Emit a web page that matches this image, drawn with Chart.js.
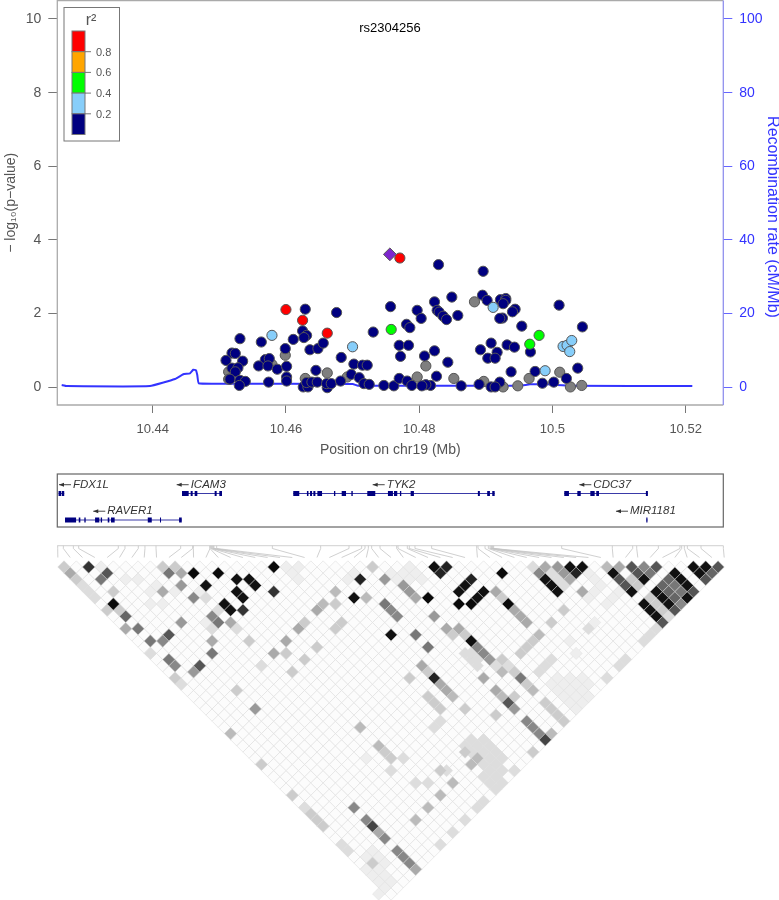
<!DOCTYPE html>
<html lang="en">
<head>
<meta charset="UTF-8">
<title>rs2304256 regional plot</title>
<script src="https://cdn.jsdelivr.net/npm/chart.js"></script>
<style>
  html, body { margin: 0; background: #fff; }
  canvas { position: absolute; left: 0; }
</style>
</head>
<body>
<canvas id="assocChart" width="779" height="470" style="top:0"></canvas>
<canvas id="geneChart" width="779" height="60" style="top:470px"></canvas>
<canvas id="ldChart" width="779" height="355" style="top:545px"></canvas>
<script>
// association points: position in Mb, -log10(p), split by r2 class
const navyPos = [10.4531,10.4519,10.4524,10.4510,10.4535,10.4519,10.4528,10.4524,10.4516,10.4531,10.4539,10.4530,10.4563,10.4569,10.4575,10.4559,10.4573,10.4587,10.4574,10.4601,10.4599,10.4611,10.4601,10.4601,10.4629,10.4625,10.4631,10.4627,10.4636,10.4648,10.4656,10.4676,10.4683,10.4645,10.4702,10.4715,10.4722,10.4698,10.4710,10.4717,10.4725,10.4747,10.4762,10.4770,10.4782,10.4789,10.4757,10.4731,10.4770,10.4784,10.4772,10.4781,10.4786,10.4797,10.4803,10.4626,10.4633,10.4631,10.4639,10.4647,10.4662,10.4661,10.4668,10.4682,10.4829,10.4896,10.4849,10.4823,10.4895,10.4902,10.4922,10.4930,10.4930,10.4926,10.4944,10.4940,10.4925,10.4921,10.4827,10.4830,10.4836,10.4841,10.4858,10.4954,10.5010,10.5045,10.4908,10.4892,10.4932,10.4943,10.4917,10.4903,10.4914,10.4967,10.4808,10.4823,10.4843,10.4826,10.4938,10.4974,10.5038,10.5021,10.5002,10.4985,10.4921,10.4890,10.4863,10.4908,10.4914,10.4817,10.4810,10.4804];
const navyP = [1.32,.93,.92,.73,.71,.52,.53,.42,.22,.19,.16,.05,1.23,.75,.78,.58,.58,.49,.14,.57,1.05,1.30,.28,.17,2.12,1.53,1.41,1.35,1.02,1.05,1.20,2.03,.81,.46,.63,.60,.60,.35,.26,.10,.08,.05,.04,.24,.17,.05,2.19,1.50,1.14,1.14,.84,1.71,1.62,2.09,1.87,.01,.01,.13,.14,.14,-.01,.10,.10,.17,3.33,3.15,2.45,2.32,2.50,2.36,2.38,2.41,2.36,2.27,2.12,2.05,1.88,1.87,2.09,2.04,1.93,1.84,1.95,1.66,2.23,1.64,1.20,1.02,1.15,1.09,.95,.79,.79,.96,.85,.99,.68,.30,.42,.43,.52,.24,.14,.11,.14,.08,.04,.01,.01,.05,.07,.04];
const grayPos = [10.4514,10.4514,10.4599,10.4579,10.4629,10.4662,10.4692,10.4797,10.4883,10.4810,10.4852,10.4897,10.4926,10.4948,10.4965,10.5011,10.5027,10.5044];
const grayP = [.42,.22,.87,.62,.24,.39,.28,.28,2.32,.58,.24,.16,.01,.04,.24,.41,.01,.05];
const bluePos = [10.4579,10.4700,10.4911,10.4989,10.5016,10.5022,10.5029,10.5026];
const blueP = [1.41,1.10,2.17,.45,1.11,1.14,1.27,.97];
const greenPos = [10.4758,10.4980,10.4966];
const greenP = [1.57,1.41,1.17];
const redPos = [10.4600,10.4625,10.4662,10.4771];
const redP = [2.11,1.82,1.47,3.51];
const leadPos = [10.4756];
const leadP = [3.61];

// recombination rate
const recombPos = [10.42634,10.42709,10.43959,10.44335,10.44459,10.4456,10.44609,10.4465,10.44669,10.4469,10.4501,10.47002,10.47082,10.49513,10.49663,10.49933,10.50263,10.521];
const recombRate = [.62,.35,.35,2.25,3.53,3.8,4.78,4.62,3.34,1.09,.98,.9,.43,.43,.8,.8,.43,.35];

const xTicks = [10.44,10.46,10.48,10.5,10.52];
const leftTicks = [0,2,4,6,8,10];
const rightTicks = [0,20,40,60,80,100];

const r2Colors = ['#ff0000','#ffa500','#00ff00','#87cefa','#000080'];
const r2Labels = ['0.8','0.6','0.4','0.2'];

// genes: exon start/end pairs
const fdx1l = [10.42587,10.42624,10.42634,10.42672];
const raver1 = [10.42684,10.42850,10.42890,10.42914,10.42974,10.42994,10.43135,10.43199,10.43220,10.43240,10.43325,10.43349,10.43374,10.43429,10.43926,10.43986,10.44110,10.44125,10.44396,10.44436];
const icam3 = [10.44440,10.44540,10.44570,10.44600,10.44630,10.44670,10.44930,10.44960,10.45000,10.45040];
const tyk2 = [10.46110,10.46200,10.46315,10.46338,10.46362,10.46392,10.46412,10.46442,10.46472,10.46542,10.46721,10.46741,10.46837,10.46902,10.46982,10.47003,10.47221,10.47341,10.47531,10.47606,10.47622,10.47671,10.47711,10.47731,10.47872,10.47921,10.48881,10.48911,10.49021,10.49062,10.49097,10.49133];
const cdc37 = [10.50178,10.50248,10.50374,10.50425,10.50569,10.50634,10.50658,10.50699,10.51403,10.51433];
const mir1181 = [10.51409,10.51427];
const geneNames = ['FDX1L','RAVER1','ICAM3','TYK2','CDC37','MIR1181'];
const geneRows = [1,2,1,1,1,2];
const geneArrows = [10.42594,10.43108,10.4436,10.47302,10.50404,10.50954];
const geneExons = [fdx1l,raver1,icam3,tyk2,cdc37,mir1181];

// SNP positions for the LD triangle, in plot order
const snpPos = [10.42574,10.42659,10.42809,10.42889,10.43484,10.43584,10.43784,10.43884,10.4405,10.4442,10.446,10.4461,10.4486,10.4486,10.44875,10.44885,10.449,10.4491,10.4492,10.4496,10.45796,10.46521,10.46947,10.47137,10.47187,10.47237,10.47287,10.47412,10.47662,10.47682,10.47822,10.47852,10.47937,10.48187,10.48863,10.48883,10.48988,10.49038,10.49063,10.49078,10.49088,10.49098,10.49108,10.49118,10.50139,10.50899,10.51205,10.51265,10.5159,10.51915,10.5194,10.5198,10.52025,10.5223,10.52566];

// LD cells above the white background, by shade: [column, row] in half cell steps
const ld0a = [[8,6],[21,1],[25,1],[34,0],[71,1],[66,6],[64,6],[72,6],[59,5]];
const ld11 = [[23,3],[26,6],[27,7],[28,2],[30,2],[31,3],[28,4],[29,5],[47,5],[53,11],[60,0],[65,3],[64,4],[68,4],[67,5],[66,12],[78,2],[79,3],[80,4],[82,0],[84,0],[89,1],[92,4],[94,2],[102,0],[104,0],[103,1],[99,1],[100,2],[101,3],[101,5],[96,4],[97,5],[98,6],[94,6],[95,7],[96,8]];
const ld22 = [[48,2],[62,0],[61,1],[66,2],[83,1],[60,18]];
const ld33 = [[4,0],[29,7],[34,4]];
const ld44 = [[50,42],[78,28]];
const ld55 = [[7,1],[17,11],[22,16],[72,22],[90,2],[91,3],[92,0],[93,1],[96,0],[106,0],[104,2],[102,4],[99,7],[97,9]];
const ld66 = [[10,8],[105,1],[98,2],[97,3],[98,4],[99,5]];
const ld77 = [[6,2],[12,10],[14,12],[17,1],[17,15],[25,9],[24,14],[52,6],[57,11],[59,13],[74,18],[95,1],[99,3],[100,4]];
const ld88 = [[16,12],[18,16],[21,5],[24,8],[53,7],[54,8],[47,39],[49,41],[52,44],[54,46],[55,47],[56,48],[67,13],[68,14],[75,25],[76,26],[77,27],[77,1],[94,0],[100,6]];
const ld99 = [[19,3],[19,9],[21,17],[31,23],[52,2],[55,3],[56,4],[60,8],[69,15],[80,0],[81,1],[73,23]];
const ldaa = [[1,1],[10,10],[16,4],[19,1],[27,9],[24,12],[34,14],[36,12],[38,10],[41,7],[57,5],[62,10],[64,10],[70,4],[73,7],[74,8],[75,9],[78,0],[82,2],[84,4],[90,0],[58,16],[61,19],[62,20],[68,18],[70,20],[51,43],[57,49]];
const ldbb = [[42,6],[44,4],[49,5],[88,0],[77,11],[71,17],[63,21],[71,21],[76,20],[27,27],[48,26],[59,39],[61,37],[57,41],[63,35],[67,31],[66,32],[79,27],[51,29]];
const ldcc = [[0,0],[2,2],[8,4],[7,7],[9,7],[16,0],[18,0],[30,12],[28,20],[36,14],[39,9],[41,13],[39,15],[37,17],[44,6],[44,10],[45,9],[50,0],[18,18],[63,11],[65,11],[71,5],[76,12],[75,13],[74,14],[79,9],[81,7],[92,2],[93,3],[95,5],[96,6],[97,7],[59,17],[56,18],[71,15],[73,17],[75,19],[73,21],[65,23],[70,24],[78,22],[79,23],[80,24],[81,25],[59,21],[60,22],[61,23],[37,37],[32,32],[40,40],[41,41],[42,42],[50,48],[52,30],[53,31],[65,30],[61,33],[76,30]];
const lddd = [[3,3],[4,4],[5,5],[14,14],[19,19],[32,16],[23,5],[25,7],[24,10],[28,10],[76,0],[79,1],[80,2],[81,3],[98,8],[96,10],[95,11],[94,12],[91,15],[90,16],[88,18],[65,14],[66,15],[67,16],[66,14],[67,15],[70,16],[72,16],[60,26],[61,25],[39,39],[45,45],[46,46],[73,33],[71,35],[70,36],[68,38],[67,39],[65,41],[63,43],[61,45],[79,15],[78,16],[77,17],[85,10],[55,31],[53,33],[57,35],[59,35],[62,33],[66,28],[68,28],[65,29],[67,29],[69,29],[66,30],[68,30],[70,30],[69,31],[71,31],[68,32],[70,32],[69,33],[71,33],[68,34],[70,34],[69,35]];
const ldee = [[80,18],[82,18],[84,18],[79,19],[81,19],[83,19],[85,19],[80,20],[82,20],[84,20],[81,21],[83,21],[85,21],[82,22],[84,22],[83,23],[50,46],[49,47],[51,47],[52,48],[49,49],[51,49],[50,50],[52,50],[51,51],[53,51],[52,52],[51,53],[6,0],[10,2],[12,2],[14,4],[15,3],[16,6],[14,6],[18,4],[22,4],[23,9],[36,0],[37,1],[38,0],[38,2],[47,1],[46,2],[53,1],[54,2],[55,1],[56,2],[57,1],[56,0],[58,2],[85,1],[86,2],[87,3],[86,4],[85,5],[88,6],[89,5],[90,4],[86,9],[82,12],[83,14],[49,31]];
const ldShades = [['#0a0a0a',ld0a],['#111111',ld11],['#222222',ld22],['#333333',ld33],['#444444',ld44],['#555555',ld55],['#666666',ld66],['#777777',ld77],['#888888',ld88],['#999999',ld99],['#aaaaaa',ldaa],['#bbbbbb',ldbb],['#cccccc',ldcc],['#dddddd',lddd],['#eeeeee',ldee]];

const textGrey = '#555555';
const fontFamily = '"Liberation Sans", Arial, sans-serif';
const axisFont = { family: fontFamily, size: 13 };
const titleFont = { family: fontFamily, size: 14 };
const xMin = 10.42568, xMax = 10.52565;
// full canvas width on the lower panels, so Mb lines up with the top panel
const wideMin = 10.41708, wideMax = 10.53401;

function zip(xs, ys) { return xs.map((x, i) => ({ x: x, y: ys[i] })); }

function pointSet(xs, ys, color, style, radius) {
    return {
        data: zip(xs, ys), yAxisID: 'y', showLine: false,
        pointStyle: style || 'circle', pointRadius: radius || 5.1,
        pointBackgroundColor: color, pointBorderColor: '#555555', pointBorderWidth: 1
    };
}

function noEdgePadding(s) {
    s.paddingTop = 0; s.paddingBottom = 0; s.paddingLeft = 0; s.paddingRight = 0;
}

const assocExtras = {
    id: 'assocExtras',
    beforeDatasetsDraw(chart) {
        const a = chart.chartArea, c = chart.ctx;
        c.save();
        c.lineWidth = 1.3;
        c.strokeStyle = '#aaaaaa';
        c.beginPath();
        c.moveTo(a.right, a.top); c.lineTo(a.left, a.top); c.lineTo(a.left, a.bottom); c.lineTo(a.right, a.bottom);
        c.stroke();
        c.strokeStyle = '#9090ee';
        c.beginPath(); c.moveTo(a.right, a.top); c.lineTo(a.right, a.bottom); c.stroke();
        c.restore();
    },
    afterDraw(chart) {
        const c = chart.ctx;
        c.save();
        c.fillStyle = '#000';
        c.font = '13px ' + fontFamily;
        c.textAlign = 'center';
        c.textBaseline = 'middle';
        c.fillText('rs2304256', 390, 28);
        // right axis title sits lower than the middle of the axis
        c.save();
        c.translate(772, 217);
        c.rotate(Math.PI / 2);
        c.fillStyle = '#3333ff';
        c.font = '16px ' + fontFamily;
        c.fillText('Recombination rate (cM/Mb)', 0, 0);
        c.restore();
        // r2 key
        c.fillStyle = '#fff';
        c.fillRect(64, 7.5, 55.5, 133.5);
        c.strokeStyle = '#777777';
        c.lineWidth = 1;
        c.strokeRect(64, 7.5, 55.5, 133.5);
        const top = 31, step = 20.7;
        r2Colors.forEach((col, i) => {
            c.fillStyle = col;
            c.fillRect(72, top + i * step, 13, step);
            c.strokeRect(72, top + i * step, 13, step);
        });
        c.fillStyle = textGrey;
        c.font = '11px ' + fontFamily;
        c.textAlign = 'left';
        r2Labels.forEach((lab, i) => {
            const y = top + (i + 1) * step;
            c.beginPath(); c.moveTo(85, y); c.lineTo(91, y); c.stroke();
            c.fillText(lab, 96, y + 1);
        });
        c.font = '16px ' + fontFamily;
        c.textAlign = 'center';
        c.fillText('r²', 91, 21);
        c.restore();
    }
};

const assocDatasets = [
    pointSet(leadPos, leadP, '#7d26cd', 'rectRot', 6.4),
    pointSet(redPos, redP, r2Colors[0]),
    pointSet(greenPos, greenP, r2Colors[2]),
    pointSet(bluePos, blueP, r2Colors[3]),
    pointSet(navyPos, navyP, r2Colors[4]),
    pointSet(grayPos, grayP, '#7f7f7f'),
    {
        data: zip(recombPos, recombRate), yAxisID: 'y2', showLine: true,
        borderColor: '#3333ff', borderWidth: 2, pointRadius: 0, tension: 0.1
    }
];

new Chart(document.getElementById('assocChart'), {
    type: 'scatter',
    data: { datasets: assocDatasets },
    plugins: [assocExtras],
    options: {
        responsive: false, animation: false,
        layout: { autoPadding: false, padding: { top: 0.5 } },
        plugins: { legend: { display: false }, tooltip: { enabled: false } },
        scales: {
            x: {
                type: 'linear', min: xMin, max: xMax,
                afterFit: s => { s.height = 65; noEdgePadding(s); },
                afterBuildTicks: s => { s.ticks = xTicks.map(v => ({ value: v })); },
                grid: { drawOnChartArea: false, tickLength: 8, tickColor: '#777777' },
                border: { display: false },
                ticks: { color: textGrey, font: axisFont, padding: 9, maxRotation: 0, autoSkip: false, callback: v => String(v) },
                title: { display: true, text: 'Position on chr19 (Mb)', color: textGrey, font: titleFont, padding: { top: 0, bottom: 11 } }
            },
            y: {
                position: 'left', min: -0.4806, max: 10.502,
                afterFit: s => { s.width = 57.3; noEdgePadding(s); },
                afterBuildTicks: s => { s.ticks = leftTicks.map(v => ({ value: v })); },
                grid: { drawOnChartArea: false, tickLength: 9, tickColor: '#777777' },
                border: { display: false },
                ticks: { color: textGrey, font: titleFont, padding: 7, autoSkip: false },
                title: { display: true, text: '− log₁₀(p−value)', color: textGrey, font: titleFont, padding: { top: 3, bottom: 0 } }
            },
            y2: {
                position: 'right', min: -4.806, max: 105.02,
                afterFit: s => { s.width = 55.7; noEdgePadding(s); },
                afterBuildTicks: s => { s.ticks = rightTicks.map(v => ({ value: v })); },
                grid: { drawOnChartArea: false, tickLength: 9, tickColor: '#6666ff' },
                border: { display: false },
                ticks: { color: '#3333ff', font: titleFont, padding: 7, autoSkip: false }
            }
        }
    }
});

// gene track
const geneExtras = {
    id: 'geneExtras',
    beforeDatasetsDraw(chart) {
        const c = chart.ctx, x = chart.scales.x, y = chart.scales.y;
        c.save();
        c.strokeStyle = '#666666';
        c.lineWidth = 1.2;
        c.strokeRect(x.getPixelForValue(xMin), y.getPixelForValue(0.264), x.getPixelForValue(xMax) - x.getPixelForValue(xMin), y.getPixelForValue(2.264) - y.getPixelForValue(0.264));
        c.restore();
    },
    afterDraw(chart) {
        const c = chart.ctx, x = chart.scales.x, y = chart.scales.y;
        c.save();
        c.font = 'italic 11.5px ' + fontFamily;
        c.textBaseline = 'middle';
        geneNames.forEach((name, i) => {
            const tip = x.getPixelForValue(geneArrows[i]);
            const py = y.getPixelForValue(geneRows[i]) - 8.8;
            c.strokeStyle = '#333333';
            c.fillStyle = '#333333';
            c.lineWidth = 0.9;
            c.beginPath(); c.moveTo(tip, py); c.lineTo(tip + 12, py); c.stroke();
            c.beginPath(); c.moveTo(tip, py); c.lineTo(tip + 5, py - 2); c.lineTo(tip + 5, py + 2); c.closePath(); c.fill();
            c.fillText(name, tip + 14, py);
        });
        c.restore();
    }
};

const geneDatasets = [];
geneExons.forEach((ex, i) => {
    const row = geneRows[i], pts = [];
    for (let k = 0; k < ex.length; k += 2) {
        pts.push({ x: ex[k], y: row }, { x: ex[k + 1], y: row }, { x: ex[k + 1], y: null });
    }
    geneDatasets.push({ data: pts, showLine: true, borderColor: '#000080', borderWidth: 5, borderCapStyle: 'butt', pointRadius: 0, spanGaps: false });
    geneDatasets.push({ data: [{ x: ex[0], y: row }, { x: ex[ex.length - 1], y: row }], showLine: true, borderColor: '#3a3aa8', borderWidth: 1, pointRadius: 0 });
});

new Chart(document.getElementById('geneChart'), {
    type: 'scatter',
    data: { datasets: geneDatasets },
    plugins: [geneExtras],
    options: {
        responsive: false, animation: false,
        layout: { autoPadding: false },
        plugins: { legend: { display: false }, tooltip: { enabled: false } },
        scales: {
            x: { type: 'linear', min: wideMin, max: wideMax, display: false },
            y: { min: 0.113, max: 2.377, reverse: true, display: false }
        }
    }
});

// LD triangle
const nSnp = snpPos.length;
const baseCells = [];
for (let i = 0; i < nSnp - 1; i++) {
    for (let j = i + 1; j < nSnp; j++) {
        baseCells.push({ x: i + j - 1, y: j - i - 1 });
    }
}

const cellLine = 'rgba(222,222,222,0.85)';
const ldDatasets = ldShades.map(([shade, cells]) => ({
    data: cells.map(c => ({ x: c[0], y: c[1] })),
    xAxisID: 'x', yAxisID: 'y', showLine: false, clip: false,
    pointStyle: 'rectRot', pointRadius: 6.17,
    pointBackgroundColor: shade, pointBorderColor: cellLine, pointBorderWidth: 0.5
}));
ldDatasets.push({
    data: baseCells, xAxisID: 'x', yAxisID: 'y', showLine: false, clip: false,
    pointStyle: 'rectRot', pointRadius: 6.17,
    pointBackgroundColor: '#fcfcfc', pointBorderColor: cellLine, pointBorderWidth: 0.7
});

const ldConnectors = {
    id: 'ldConnectors',
    beforeDatasetsDraw(chart) {
        const c = chart.ctx, u = chart.scales.x, mb = chart.scales.xMb, v = chart.scales.y;
        const top = v.getPixelForValue(-3.45), mid = v.getPixelForValue(-3), low = v.getPixelForValue(-1.54);
        c.save();
        c.strokeStyle = '#c4c4c4';
        c.lineWidth = 0.8;
        c.beginPath(); c.moveTo(mb.getPixelForValue(xMin), top); c.lineTo(mb.getPixelForValue(xMax), top); c.stroke();
        snpPos.forEach((p, i) => {
            const px = mb.getPixelForValue(p);
            c.beginPath();
            c.moveTo(px, top); c.lineTo(px, mid); c.lineTo(u.getPixelForValue(2 * i - 1), low);
            c.stroke();
        });
        c.restore();
    }
};

new Chart(document.getElementById('ldChart'), {
    type: 'scatter',
    data: { datasets: ldDatasets },
    plugins: [ldConnectors],
    options: {
        responsive: false, animation: false,
        layout: { autoPadding: false },
        plugins: { legend: { display: false }, tooltip: { enabled: false } },
        scales: {
            x: { type: 'linear', min: -10.373, max: 115.88, display: false },
            xMb: { type: 'linear', min: wideMin, max: wideMax, display: false },
            y: { min: -3.566, max: 53.97, reverse: true, display: false }
        }
    }
});
</script>
</body>
</html>
